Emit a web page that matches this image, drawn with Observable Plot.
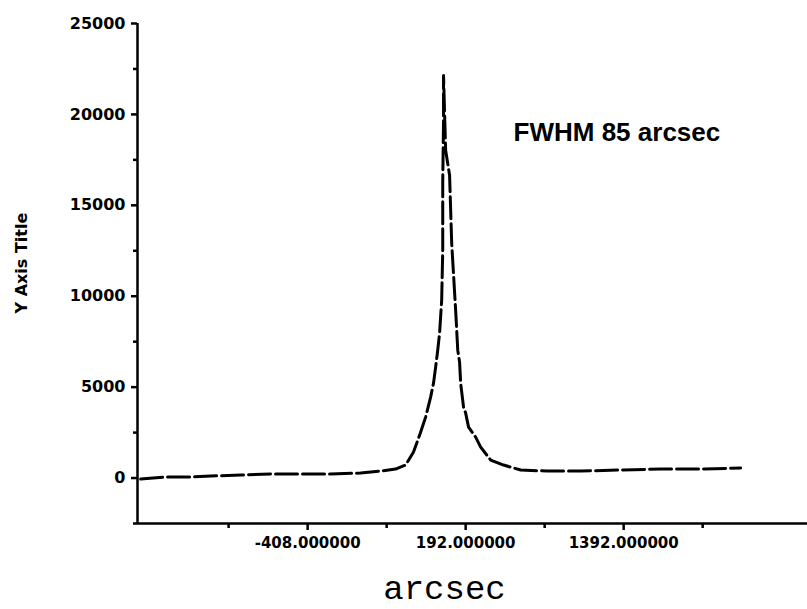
<!DOCTYPE html>
<html>
<head>
<meta charset="utf-8">
<script src="https://cdn.jsdelivr.net/npm/d3@7"></script>
<script src="https://cdn.jsdelivr.net/npm/@observablehq/plot@0.6"></script>
<style>
  html, body { margin: 0; padding: 0; background: #fff; }
  #chart svg { display: block; }
</style>
</head>
<body>
<div id="chart"></div>
<script>
// Profile samples (arcsec, counts)
const arcsec = [-1042, -947, -852, -776, -662, -548, -435, -321, -207, -131, -74, -36, -6, 20, 40, 59, 70, 78, 86, 93, 101, 105, 105, 108, 108, 116, 131, 139, 154, 162, 169, 173, 184, 192, 203, 230, 249, 287, 336, 401, 503, 629, 780, 932, 1084, 1236];
const counts = [-55, 55, 55, 110, 165, 220, 220, 220, 275, 385, 495, 714, 1429, 2473, 3352, 4451, 5220, 6099, 7034, 7968, 9781, 12529, 16265, 19672, 22145, 18024, 16650, 12913, 9232, 7034, 6374, 5220, 3901, 3572, 2802, 2253, 1703, 989, 714, 440, 385, 385, 440, 495, 495, 550];

// Axis ticks and labels
const xDomain = [-1054, 1490];
const yDomain = [-2500, 25000];
const xTicks = [-408, 192, 792];
const xTickLabels = ["-408.000000", "192.000000", "1392.000000"];
const xMinorTicks = [-708, -108, 492, 1092];
const yTicks = [0, 5000, 10000, 15000, 20000, 25000];
const yTickLabels = ["0", "5000", "10000", "15000", "20000", "25000"];
const yMinorTicks = [-2500, 2500, 7500, 12500, 17500, 22500];

const xTitle = "arcsec";
const yTitle = "Y Axis Title";
const note = [{x: 374, y: 19000, text: "FWHM 85 arcsec"}];

const data = arcsec.map((x, i) => ({x, y: counts[i]}));

const chart = Plot.plot({
  width: 807,
  height: 609,
  marginLeft: 137,
  marginRight: 0,
  marginTop: 23,
  marginBottom: 86,
  style: {background: "#fff", color: "#000", fontFamily: "DejaVu Sans", overflow: "visible"},
  x: {domain: xDomain, label: null},
  y: {domain: yDomain, label: null},
  marks: [
    Plot.axisY({ticks: yMinorTicks, tickSize: 4, tickFormat: () => "", strokeWidth: 2.5, label: null}),
    Plot.axisY({
      ticks: yTicks, tickSize: 6, tickPadding: 6, strokeWidth: 2.5,
      tickFormat: d => yTickLabels[yTicks.indexOf(d)],
      fontSize: 16, fontWeight: "900", label: null
    }),
    Plot.axisX({ticks: xMinorTicks, tickSize: 5, tickFormat: () => "", strokeWidth: 2.5, label: null}),
    Plot.axisX({
      ticks: xTicks, tickSize: 7, tickPadding: 7, strokeWidth: 2.5,
      tickFormat: d => xTickLabels[xTicks.indexOf(d)],
      fontSize: 15, fontWeight: "900", label: null
    }),
    Plot.ruleX([xDomain[0]], {y1: yDomain[0], y2: yDomain[1], strokeWidth: 2.5}),
    Plot.ruleY([yDomain[0]], {x1: xDomain[0], x2: xDomain[1], strokeWidth: 2.5}),
    Plot.line(data, {x: "x", y: "y", stroke: "#000", strokeWidth: 3, strokeDasharray: "22,5"}),
    Plot.text(note, {x: "x", y: "y", text: "text", textAnchor: "start", fontSize: 26, fontWeight: "bold", fontFamily: "Liberation Sans", letterSpacing: "1.5px"}),
    Plot.text([xTitle], {frameAnchor: "bottom", dx: -28, dy: 75, fontSize: 34, fontFamily: "Liberation Mono", fill: "#000"}),
    Plot.text([yTitle], {frameAnchor: "left", dx: -116, dy: 40, rotate: -90, fontSize: 16, fontWeight: "bold", letterSpacing: "1.5px", fill: "#000"})
  ]
});
document.getElementById("chart").appendChild(chart);
</script>
</body>
</html>
